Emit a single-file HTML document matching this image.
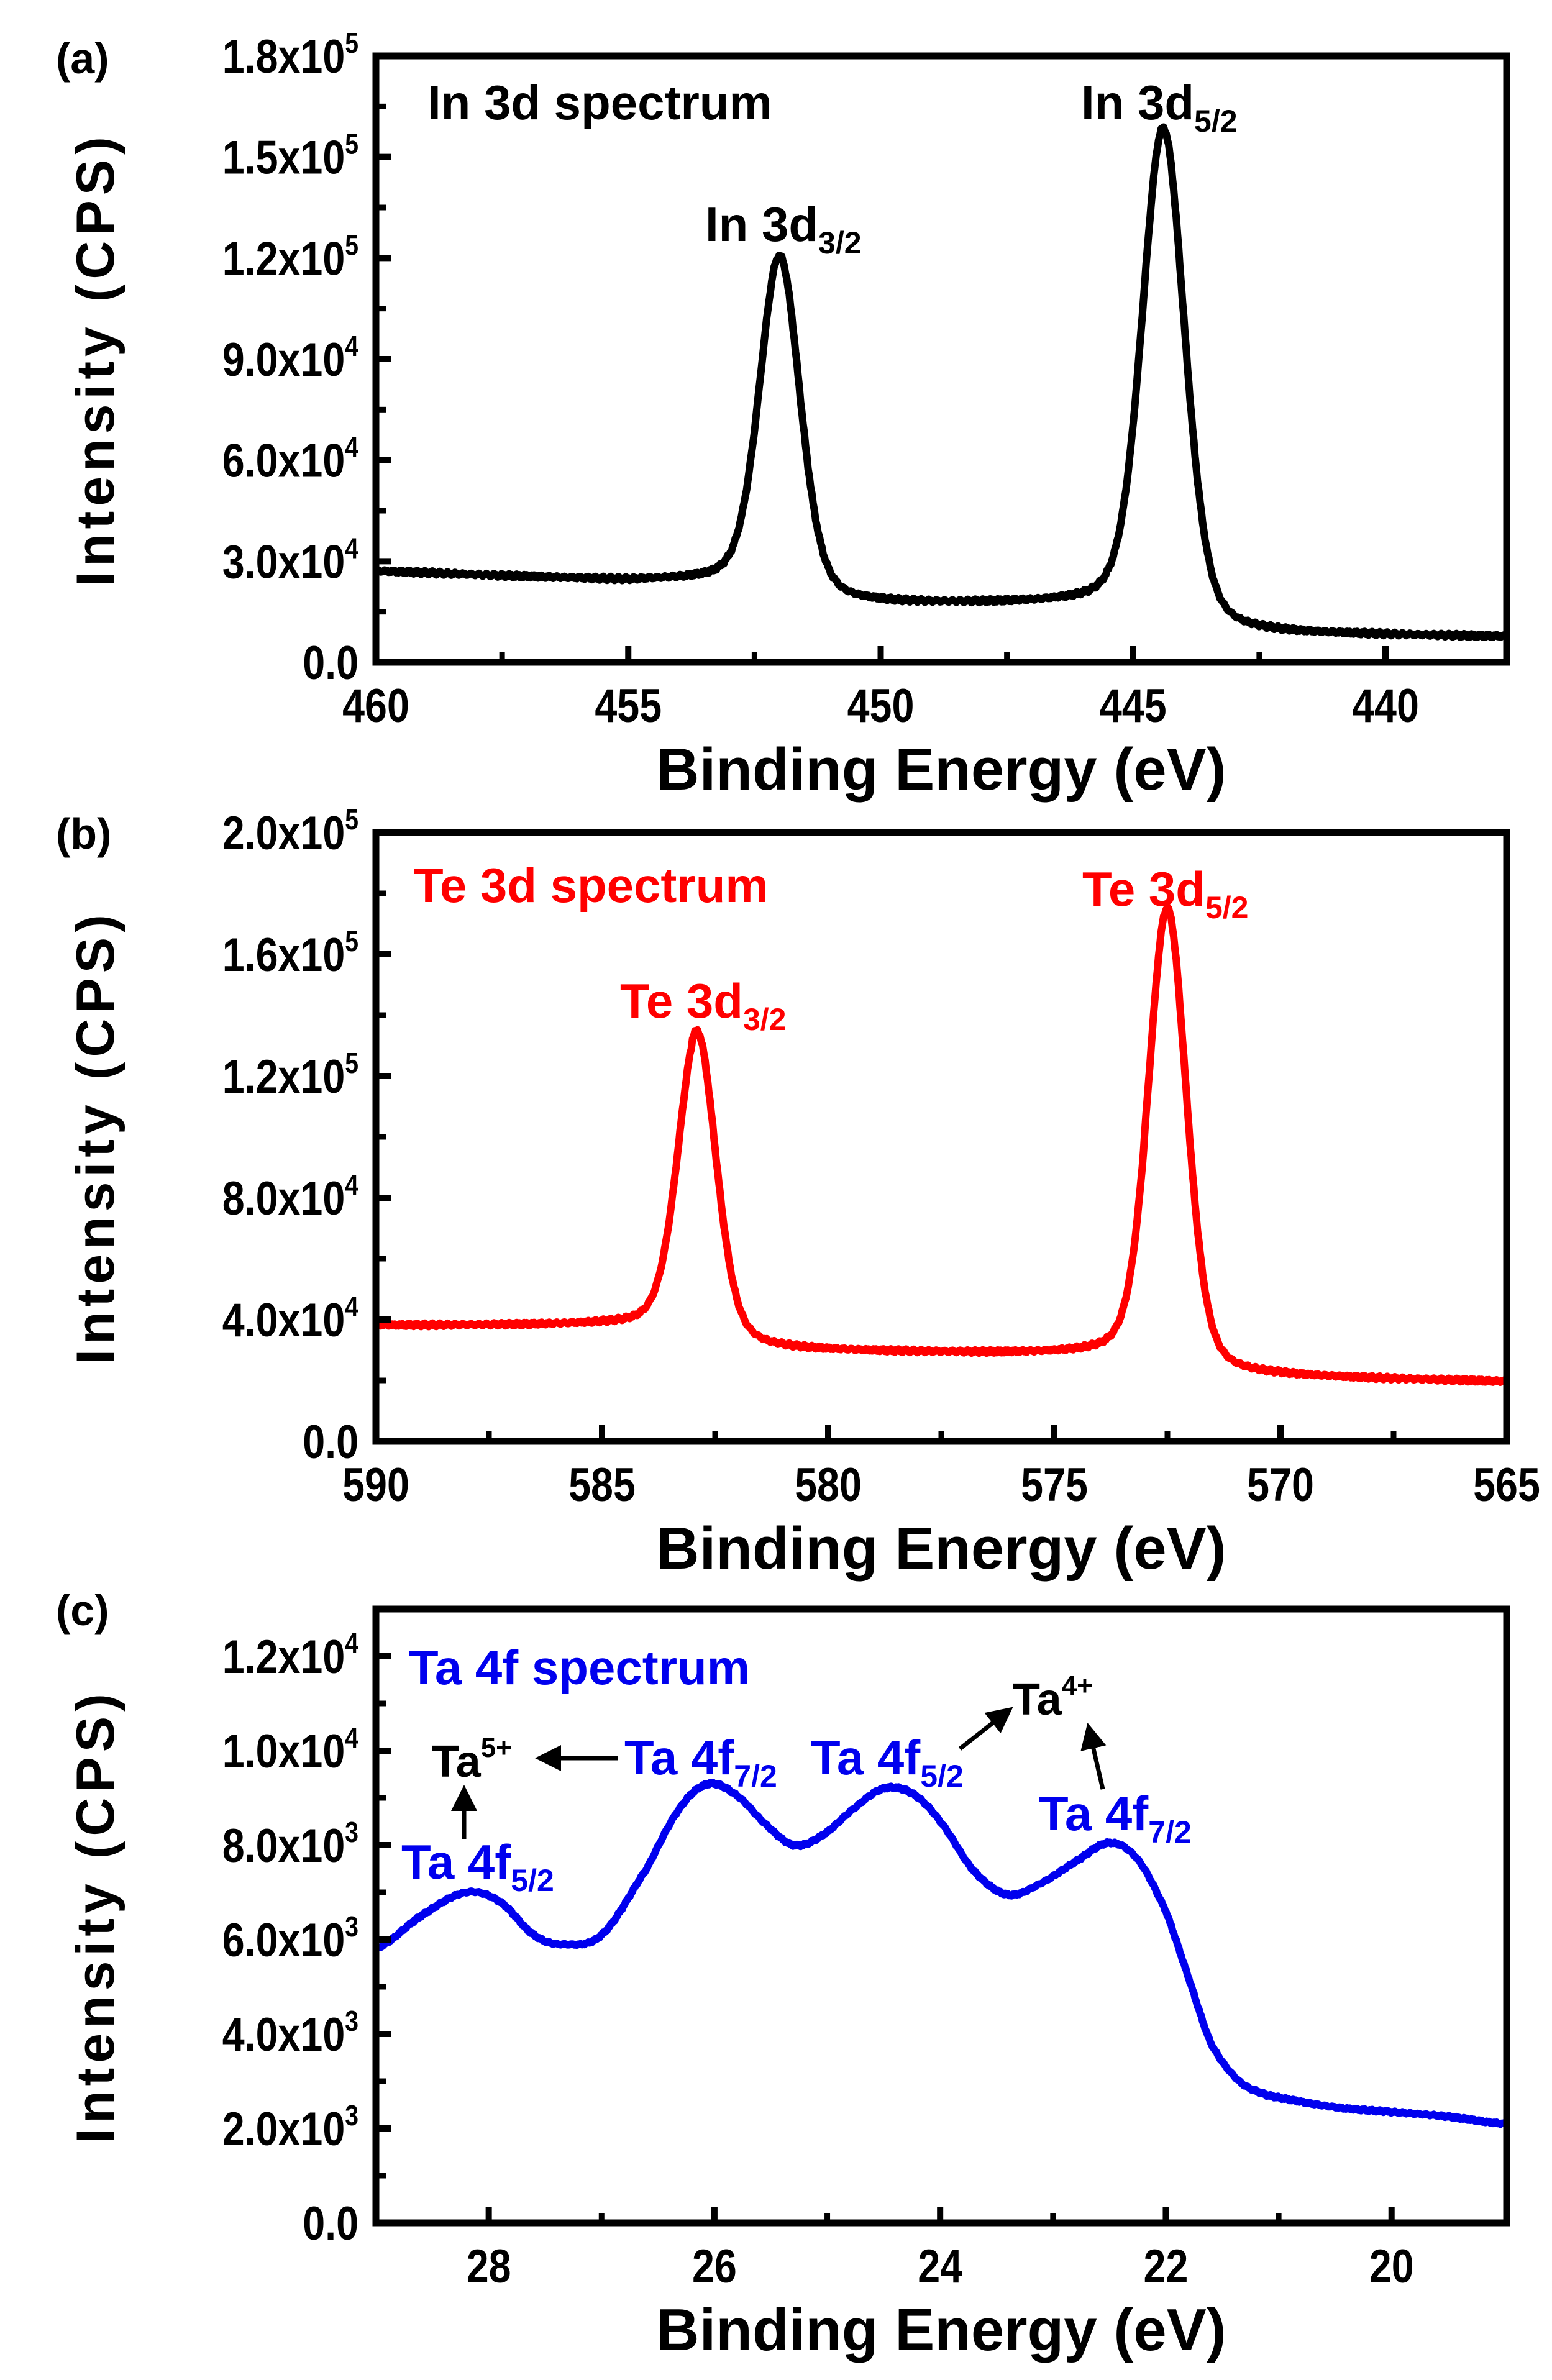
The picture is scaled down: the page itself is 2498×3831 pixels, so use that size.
<!DOCTYPE html>
<html><head><meta charset="utf-8"><style>
html,body{margin:0;padding:0;background:#fff}
svg{display:block}
text{font-family:"Liberation Sans",Arial,sans-serif;font-weight:bold}
.tk{font-size:76px}
.ti{font-size:96px}
.yt{font-size:86px}
</style></head><body>
<svg id="s" width="2498" height="3831" viewBox="0 0 2498 3831" xmlns="http://www.w3.org/2000/svg">
<defs><marker id="ar" markerWidth="6" markerHeight="6" refX="5" refY="3" orient="auto" markerUnits="strokeWidth"><path d="M0,0 L6,3 L0,6 Z" fill="#000"/></marker></defs>
<g id="g"></g>
<text x="90" y="118" font-size="70">(a)</text>
<text x="90" y="1366" font-size="70">(b)</text>
<text x="90" y="2616" font-size="70">(c)</text>
<g font-size="78">
<text x="688" y="192">In 3d spectrum</text>
<text x="1740" y="192">In 3d<tspan font-size="50" dy="20">5/2</tspan></text>
<text x="1135" y="388">In 3d<tspan font-size="50" dy="20">3/2</tspan></text>
<g fill="#f00">
<text x="666" y="1452">Te 3d spectrum</text>
<text x="1742" y="1458">Te 3d<tspan font-size="50" dy="20">5/2</tspan></text>
<text x="998" y="1638">Te 3d<tspan font-size="50" dy="20">3/2</tspan></text>
</g>
<g fill="#0000ee">
<text x="658" y="2711">Ta 4f spectrum</text>
<text x="646" y="3024">Ta 4f<tspan font-size="50" dy="20">5/2</tspan></text>
<text x="1005" y="2856">Ta 4f<tspan font-size="50" dy="20">7/2</tspan></text>
<text x="1305" y="2856">Ta 4f<tspan font-size="50" dy="20">5/2</tspan></text>
<text x="1672" y="2946">Ta 4f<tspan font-size="50" dy="20">7/2</tspan></text>
</g>
<text x="695" y="2860" font-size="72">Ta<tspan font-size="44" dy="-32">5+</tspan></text>
<text x="1630" y="2760" font-size="72">Ta<tspan font-size="44" dy="-32">4+</tspan></text>
</g>
<g stroke="#000" stroke-width="7" fill="none">
<line x1="995" y1="2830" x2="868" y2="2830" marker-end="url(#ar)"/>
<line x1="747" y1="2960" x2="747" y2="2880" marker-end="url(#ar)"/>
<line x1="1545" y1="2815" x2="1625" y2="2752" marker-end="url(#ar)"/>
<line x1="1775" y1="2880" x2="1752" y2="2780" marker-end="url(#ar)"/>
</g>
</svg>
<script>
const NS="http://www.w3.org/2000/svg",G=document.getElementById('g');
function el(t,a,txt){const e=document.createElementNS(NS,t);for(const k in a)e.setAttribute(k,a[k]);if(txt!==undefined)e.innerHTML=txt;G.appendChild(e);return e;}
function panel(P){
 const {L,R,T,B,x0,x1,y1,color,f,xt,xmin,yt}=P;
 const X=v=>L+(v-x0)/(x1-x0)*(R-L), Y=v=>B-v/y1*(B-T);
 let d="";const N=900;
 for(let i=0;i<=N;i++){const v=x0+(x1-x0)*i/N;let y=f(v)+(Math.sin(i*7.3)*0.5+Math.sin(i*3.1)*0.5)*P.noise;d+=(i?"L":"M")+X(v).toFixed(1)+","+Y(y).toFixed(1);}
 el('path',{d,fill:"none",stroke:color,"stroke-width":12,"stroke-linejoin":"round"});
 el('rect',{x:L,y:T,width:R-L,height:B-T,fill:"none",stroke:"#000","stroke-width":11});
 xt.forEach(v=>{el('line',{x1:X(v),x2:X(v),y1:B,y2:B-26,stroke:"#000","stroke-width":10});
   el('text',{x:X(v),y:B+96,"text-anchor":"middle",class:"tk",transform:`translate(${X(v)},0) scale(0.85,1) translate(${-X(v)},0)`},String(v));});
 xmin.forEach(v=>el('line',{x1:X(v),x2:X(v),y1:B,y2:B-16,stroke:"#000","stroke-width":9}));
 yt.forEach((t,i)=>{const y=Y(t[0]);el('line',{x1:L,x2:L+24,y1:y,y2:y,stroke:"#000","stroke-width":10});
   const tx=el('text',{x:L-28,y:y+27,"text-anchor":"end",class:"tk",transform:`translate(${L-28},0) scale(0.85,1) translate(${-(L-28)},0)`});
   tx.innerHTML=t[1];
   if(i<yt.length-1){const ym=Y((t[0]+yt[i+1][0])/2);el('line',{x1:L,x2:L+16,y1:ym,y2:ym,stroke:"#000","stroke-width":9});}
 });
 el('text',{x:(L+R)/2,y:B+205,"text-anchor":"middle",class:"ti"},"Binding Energy (eV)");
 el('text',{x:0,y:0,"text-anchor":"middle",class:"yt","letter-spacing":"8",transform:`translate(${183},${(T+B)/2}) rotate(-90)`},"Intensity (CPS)");
}
const pv=(x,c,w)=>{const g=Math.exp(-4*Math.LN2*((x-c)/w)**2),l=1/(1+4*((x-c)/w)**2);return 0.7*g+0.3*l;};
const st=(x,c,w)=>1/(1+Math.exp((x-c)/w));
function sup(a,b){return a+'x10<tspan font-size="46" dy="-32">'+b+'</tspan>';}
panel({L:605,R:2425,T:90,B:1066,x0:460,x1:437.6,y1:1.8e5,color:"#000",noise:600,
 f:x=>{let base=8000+9000*(1-st(x,444.4,0.5))+7000*(1-st(x,452,0.5))+(x>455?(x-455)*600:0)-(x<441?(441-x)*150:0);
   return base+1.0e5*pv(x,452,0.95)+1.46e5*pv(x,444.4,1.0);},
 xt:[460,455,450,445,440],xmin:[457.5,452.5,447.5,442.5],
 yt:[[0,"0.0"],[3e4,sup("3.0","4")],[6e4,sup("6.0","4")],[9e4,sup("9.0","4")],[1.2e5,sup("1.2","5")],[1.5e5,sup("1.5","5")],[1.8e5,sup("1.8","5")]]});
panel({L:605,R:2425,T:1340,B:2320,x0:590,x1:565,y1:2e5,color:"#f00",noise:600,
 f:x=>{let base=1.95e4+0.8e4*(1-st(x,572.5,0.5))+0.9e4*(1-st(x,582.9,0.5))+(x<570?(x-565)*300:1500);
   base+=(x>583?0:(x>573?(x-578)*250:0));
   return base+1.0e5*pv(x,582.9,1.0)+1.5e5*pv(x,572.5,1.0);},
 xt:[590,585,580,575,570,565],xmin:[587.5,582.5,577.5,572.5,567.5],
 yt:[[0,"0.0"],[4e4,sup("4.0","4")],[8e4,sup("8.0","4")],[1.2e5,sup("1.2","5")],[1.6e5,sup("1.6","5")],[2e5,sup("2.0","5")]]});
const pts=[[29,5800],[28.6,6500],[28.2,7000],[27.9,6800],[27.6,6100],[27.35,5900],[27.0,6100],[26.6,7500],[26.3,8800],[26.05,9300],[25.8,9050],[25.55,8450],[25.3,8000],[25.05,8200],[24.75,8800],[24.5,9200],[24.25,9100],[24.0,8500],[23.7,7450],[23.4,6950],[23.1,7200],[22.8,7650],[22.5,8050],[22.25,7700],[22.0,6600],[21.8,5200],[21.6,3800],[21.35,3000],[21.1,2700],[20.5,2450],[20,2350],[19.5,2250],[19,2100]];
function cr(x){for(let i=0;i<pts.length-1;i++){if(x<=pts[i][0]&&x>=pts[i+1][0]){const p0=pts[Math.max(0,i-1)],p1=pts[i],p2=pts[i+1],p3=pts[Math.min(pts.length-1,i+2)];const t=(p1[0]-x)/(p1[0]-p2[0]);const t2=t*t,t3=t2*t;return 0.5*((2*p1[1])+(-p0[1]+p2[1])*t+(2*p0[1]-5*p1[1]+4*p2[1]-p3[1])*t2+(-p0[1]+3*p1[1]-3*p2[1]+p3[1])*t3);}}return pts[pts.length-1][1];}
panel({L:605,R:2425,T:2590,B:3578,x0:29,x1:18.98,y1:1.3e4,color:"#0000ee",noise:25,f:cr,
 xt:[28,26,24,22,20],xmin:[27,25,23,21],
 yt:[[0,"0.0"],[2e3,sup("2.0","3")],[4e3,sup("4.0","3")],[6e3,sup("6.0","3")],[8e3,sup("8.0","3")],[1e4,sup("1.0","4")],[1.2e4,sup("1.2","4")]]});
</script>
</body></html>
